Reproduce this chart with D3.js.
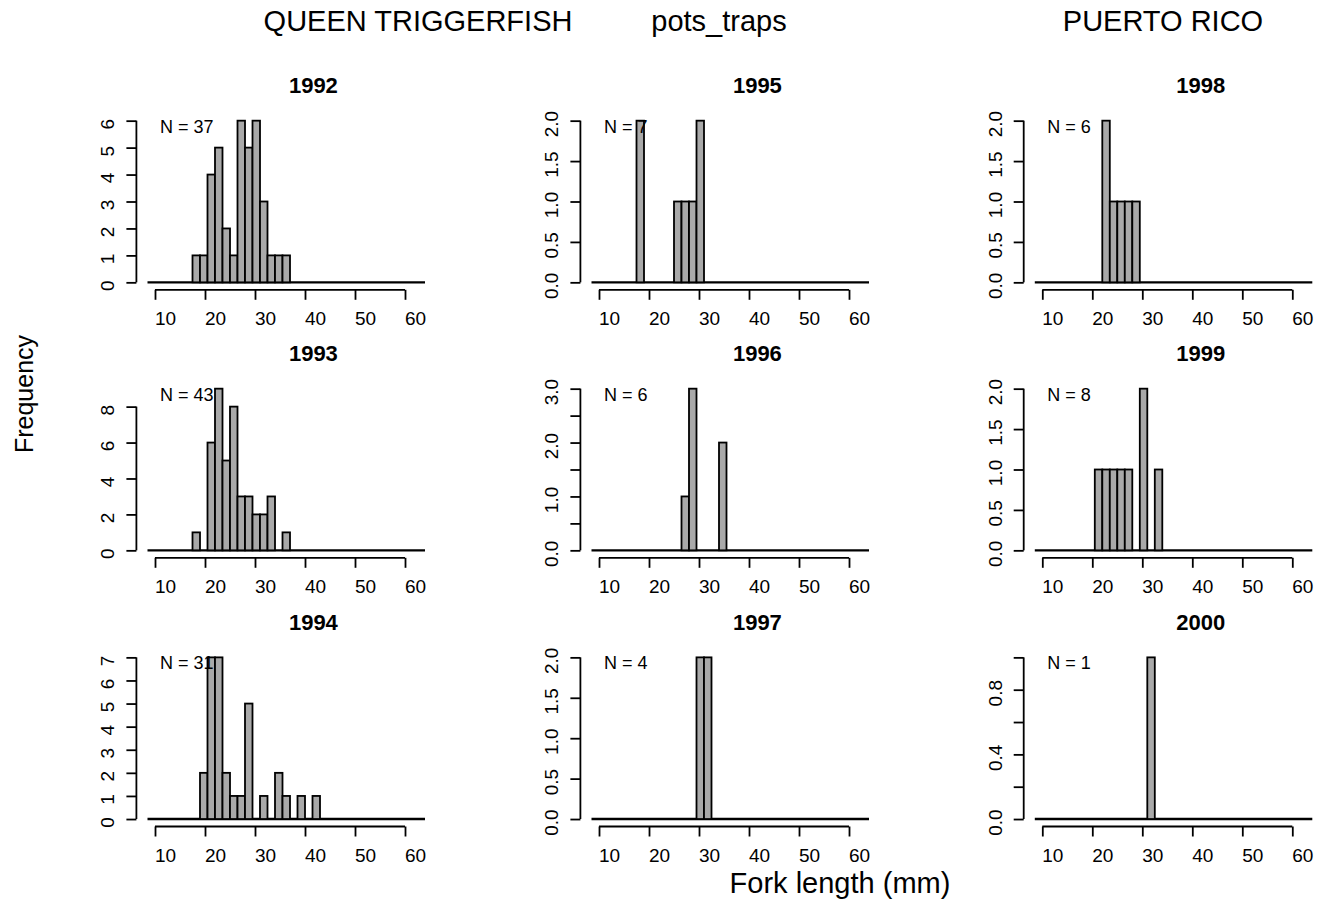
<!DOCTYPE html>
<html>
<head>
<meta charset="utf-8">
<script src="https://cdnjs.cloudflare.com/ajax/libs/d3/7.8.5/d3.min.js"></script>
<style>
  body { margin: 0; background: #fff; }
  text { font-family: "Liberation Sans", Arial, sans-serif; fill: #000; }
</style>
</head>
<body>
<svg id="chart" width="1318" height="902"></svg>
<script>

// panels in the order R fills them (column by column)
var years = [1992, 1993, 1994, 1995, 1996, 1997, 1998, 1999, 2000];
var sampleN = [37, 43, 31, 7, 6, 4, 6, 8, 1];
// lower edge of the first bar shown, then counts per 1.5 mm bin
var firstBin = [17.5, 17.5, 19, 17.5, 26.5, 29.5, 22, 20.5, 31];
var counts = [
  [1, 1, 4, 5, 2, 1, 6, 5, 6, 3, 1, 1, 1],
  [1, 0, 6, 9, 5, 8, 3, 3, 2, 2, 3, 0, 1],
  [2, 7, 7, 2, 1, 1, 5, 0, 1, 0, 2, 1, 0, 1, 0, 1],
  [2, 0, 0, 0, 0, 1, 1, 1, 2],
  [1, 3, 0, 0, 0, 2],
  [2, 2],
  [2, 1, 1, 1, 1],
  [1, 1, 1, 1, 1, 0, 2, 0, 1],
  [1]
];
var binWidth = 1.5;
var breaksRange = [8.5, 64];

var xTicks = [10, 20, 30, 40, 50, 60];
var yTicks = [
  [0, 1, 2, 3, 4, 5, 6],
  [0, 2, 4, 6, 8],
  [0, 1, 2, 3, 4, 5, 6, 7],
  [0, 0.5, 1, 1.5, 2],
  [0, 0.5, 1, 1.5, 2, 2.5, 3],
  [0, 0.5, 1, 1.5, 2],
  [0, 0.5, 1, 1.5, 2],
  [0, 0.5, 1, 1.5, 2],
  [0, 0.2, 0.4, 0.6, 0.8, 1]
];
// labels R actually printed (the rest were dropped for overlap)
var yTickLabels = [
  ["0", "1", "2", "3", "4", "5", "6"],
  ["0", "2", "4", "6", "8"],
  ["0", "1", "2", "3", "4", "5", "6", "7"],
  ["0.0", "0.5", "1.0", "1.5", "2.0"],
  ["0.0", "", "1.0", "", "2.0", "", "3.0"],
  ["0.0", "0.5", "1.0", "1.5", "2.0"],
  ["0.0", "0.5", "1.0", "1.5", "2.0"],
  ["0.0", "0.5", "1.0", "1.5", "2.0"],
  ["0.0", "", "0.4", "", "0.8", ""]
];

var svg = d3.select("#chart");

// layout
var colLeft = [136.4, 580.4, 1023.7];
var rowTop = [114.2, 382.2, 650.9];
var pw = 300, ph = 174.6;

years.forEach(function(yr, i) {
  var col = Math.floor(i / 3), row = i % 3;
  var g = svg.append("g")
      .attr("transform", "translate(" + colLeft[col] + "," + rowTop[row] + ")");

  var maxC = d3.max(counts[i]);
  var x = d3.scaleLinear().domain([6.28, 66.28]).range([0, pw]);
  var y = d3.scaleLinear().domain([-0.04 * maxC, 1.04 * maxC]).range([ph, 0]);

  // zero bins show up as a heavy baseline
  g.append("line")
      .attr("x1", x(breaksRange[0])).attr("x2", x(breaksRange[1]))
      .attr("y1", y(0)).attr("y2", y(0))
      .attr("stroke", "#000").attr("stroke-width", 2.4);

  var bars = counts[i].map(function(c, j) {
    return { x0: firstBin[i] + j * binWidth, c: c };
  }).filter(function(d) { return d.c > 0; });

  g.selectAll("rect.bar").data(bars).enter().append("rect")
      .attr("class", "bar")
      .attr("x", function(d) { return x(d.x0); })
      .attr("width", function(d) { return x(d.x0 + binWidth) - x(d.x0); })
      .attr("y", function(d) { return y(d.c); })
      .attr("height", function(d) { return y(0) - y(d.c); })
      .attr("fill", "#a9a9a9")
      .attr("stroke", "#000")
      .attr("stroke-width", 1.8);

  // x axis
  var xa = g.append("g").attr("transform", "translate(0," + (ph + 1) + ")")
      .call(d3.axisBottom(x).tickValues(xTicks).tickSize(10).tickPadding(12).tickSizeOuter(0));
  // y axis
  var ya = g.append("g")
      .call(d3.axisLeft(y).tickValues(yTicks[i]).tickSize(10).tickSizeOuter(0)
        .tickFormat(function(d, k) { return yTickLabels[i][k]; }));

  [xa, ya].forEach(function(a) {
    a.select(".domain").attr("stroke", "#000").attr("stroke-width", 1.8);
    a.selectAll(".tick line").attr("stroke", "#000").attr("stroke-width", 1.8);
    a.selectAll("text").style("font-size", "19px").attr("fill", "#000");
  });
  // R draws the axis lines only from first to last tick
  xa.select(".domain").attr("d", "M" + x(xTicks[0]) + ",0H" + x(xTicks[xTicks.length - 1]));
  var yt = yTicks[i];
  ya.select(".domain").attr("d", "M0," + y(yt[0]) + "V" + y(yt[yt.length - 1]));

  // labels sit a little right of their ticks in the original
  xa.selectAll(".tick text").attr("dx", 10);

  ya.selectAll(".tick text")
      .attr("x", null).attr("dy", null)
      .attr("text-anchor", "middle")
      .attr("transform", "translate(-22,3) rotate(-90)");

  // panel title
  g.append("text")
      .attr("x", 177).attr("y", -21)
      .attr("text-anchor", "middle")
      .style("font-size", "22px").style("font-weight", "bold")
      .text(yr);

  // sample size
  g.append("text")
      .attr("x", x(11)).attr("y", y(maxC) + 12)
      .style("font-size", "18px")
      .text("N = " + sampleN[i]);
});

// outer titles
var header = [["QUEEN TRIGGERFISH", 418], ["pots_traps", 719], ["PUERTO RICO", 1163]];
header.forEach(function(h) {
  svg.append("text")
      .attr("x", h[1]).attr("y", 31)
      .attr("text-anchor", "middle")
      .style("font-size", "29px")
      .text(h[0]);
});

svg.append("text")
    .attr("transform", "translate(33,394) rotate(-90)")
    .attr("text-anchor", "middle")
    .style("font-size", "25px")
    .text("Frequency");

svg.append("text")
    .attr("x", 840).attr("y", 893)
    .attr("text-anchor", "middle")
    .style("font-size", "29px")
    .text("Fork length (mm)");

</script>
</body>
</html>
